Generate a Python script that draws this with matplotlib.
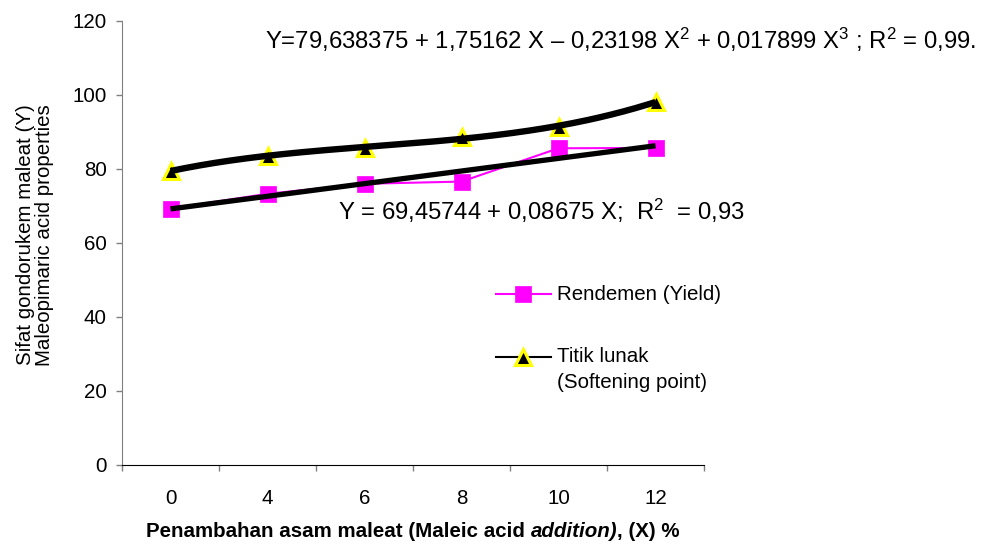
import numpy as np
import matplotlib
matplotlib.use("Agg")
import matplotlib.pyplot as plt
from matplotlib.lines import Line2D

plt.rcParams['font.family'] = ['Liberation Sans', 'DejaVu Sans']
plt.rcParams['mathtext.fontset'] = 'custom'
plt.rcParams['mathtext.rm'] = 'Liberation Sans'
plt.rcParams['mathtext.it'] = 'Liberation Sans:italic'
plt.rcParams['mathtext.bf'] = 'Liberation Sans:bold'

categories = ['0', '4', '6', '8', '10', '12']
yield_vals = [69.3, 73.3, 76.0, 76.6, 85.6, 85.7]
softening_vals = [79.5, 83.5, 85.8, 88.6, 91.3, 98.2]
y_ticks = [0, 20, 40, 60, 80, 100, 120]

FS = 14.8
EQ = 17.2
W, H = 986, 544
fig = plt.figure(figsize=(W/100, H/100), dpi=100)
ax = fig.add_axes([122/W, 1-465/H, (704-122)/W, (465-21)/H])

x = np.arange(len(categories))

# trendlines
lin = np.polyfit(x, yield_vals, 1)
cub = np.polyfit(x, softening_vals, 3)
xs = np.linspace(0, len(categories)-1, 200)

ax.plot(x, yield_vals, color='#FF00FF', lw=1.5, marker='s', markersize=11,
        markerfacecolor='#FF00FF', markeredgecolor='#FF00FF', markeredgewidth=0.5, zorder=3)
ax.plot(x, softening_vals, color='black', lw=1.2, marker='^', markersize=11,
        markerfacecolor='black', markeredgecolor='#FFFF00', markeredgewidth=2.2, zorder=3)
ax.plot(xs, np.polyval(lin, xs), color='black', lw=3.8, zorder=4, solid_capstyle='butt')
ax.plot(xs, np.polyval(cub, xs), color='black', lw=4.6, zorder=4, solid_capstyle='butt')

ax.set_xlim(-0.5, len(categories)-0.5)
ax.set_ylim(0, 120)
ax.set_yticks(y_ticks)
ax.set_yticklabels([str(v) for v in y_ticks], fontsize=FS)
ax.set_xticks(np.arange(-0.5, len(categories), 1))
ax.set_xticklabels([])
ax.set_xticks(x, minor=True)
ax.set_xticklabels(categories, minor=True, fontsize=FS)
ax.tick_params(axis='x', which='major', length=4.3, color='#808080', width=1)
ax.tick_params(axis='x', which='minor', length=0, pad=17.5)
ax.tick_params(axis='y', length=4.3, color='#808080', width=1, pad=6.5)

for s in ['top', 'right']:
    ax.spines[s].set_visible(False)
ax.spines['left'].set_color('#808080')
ax.spines['bottom'].set_color('black')
ax.spines['bottom'].set_zorder(5)

ax.set_ylabel('Sifat gondorukem maleat (Y)\nMaleopimaric acid properties', fontsize=FS,
              linespacing=1.0)
ax.yaxis.set_label_coords((54 - 122) / 582, 0.518)

# x label with italic part, centred under the axes
t1 = fig.text(142/W, 1-537/H, 'Penambahan asam maleat (Maleic acid ', fontsize=FS,
              fontweight='bold', ha='left', va='baseline')
t2 = ax.annotate('addition)', xy=(1, 0), xycoords=t1, ha='left', va='bottom',
                 fontsize=FS, fontweight='bold', fontstyle='italic', annotation_clip=False)
t3 = ax.annotate(', (X) %', xy=(1, 0), xycoords=t2, ha='left', va='bottom',
                 fontsize=FS, fontweight='bold', annotation_clip=False)
fig.canvas.draw()
r = fig.canvas.get_renderer()
x0 = t1.get_window_extent(r).x0
x1 = t3.get_window_extent(r).x1
centre = (122 + 704) / 2
t1.set_x((centre - (x1 - x0) / 2) / W)

# equations
fig.text(265/W, 1-49/H,
         r'Y=79,638375 + 1,75162 X – 0,23198 X$^2$ + 0,017899 X$^3$ ; R$^2$ = 0,99.',
         fontsize=EQ, ha='left', va='baseline')
fig.text(338/W, 1-220/H, r'Y = 69,45744 + 0,08675 X;  R$^2$  = 0,93',
         fontsize=EQ, ha='left', va='baseline')

# manual legend
def leg_handle(y, color, marker, mfc, mec, mew):
    ln = Line2D([496/W, 523/W, 551/W], [1-y/H]*3, transform=fig.transFigure,
                color=color, lw=1.5, marker=marker, markersize=11, markevery=[1],
                markerfacecolor=mfc, markeredgecolor=mec, markeredgewidth=mew)
    fig.add_artist(ln)

leg_handle(294, '#FF00FF', 's', '#FF00FF', '#FF00FF', 0.5)
fig.text(557/W, 1-294/H, 'Rendemen (Yield)', fontsize=FS, ha='left', va='center')
leg_handle(357, 'black', '^', 'black', '#FFFF00', 2.2)
fig.text(557/W, 1-357/H, 'Titik lunak', fontsize=FS, ha='left', va='center')
fig.text(557/W, 1-382/H, '(Softening point)', fontsize=FS, ha='left', va='center')

fig.savefig('out.png', dpi=100)
